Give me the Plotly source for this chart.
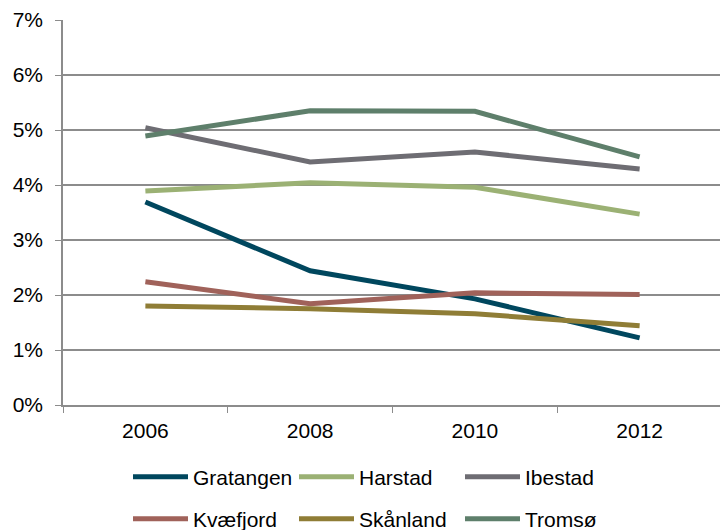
import plotly.graph_objects as go

years = ["2006", "2008", "2010", "2012"]
gratangen = [3.69, 2.44, 1.93, 1.22]
harstad = [3.89, 4.04, 3.96, 3.47]
ibestad = [5.04, 4.42, 4.60, 4.29]
kvaefjord = [2.24, 1.84, 2.04, 2.01]
skanland = [1.80, 1.75, 1.66, 1.44]
tromso = [4.89, 5.35, 5.34, 4.51]
y_ticks = [0, 1, 2, 3, 4, 5, 6, 7]
y_labels = [f"{v}%" for v in y_ticks]

series = [
    ("Gratangen", gratangen, "#00475E", "legend"),
    ("Harstad", harstad, "#9BB174", "legend"),
    ("Ibestad", ibestad, "#6E6D73", "legend"),
    ("Kvæfjord", kvaefjord, "#A0625A", "legend2"),
    ("Skånland", skanland, "#8F7D36", "legend2"),
    ("Tromsø", tromso, "#5E7F6B", "legend2"),
]

fig = go.Figure()
for name, vals, color, lg in series:
    fig.add_trace(go.Scatter(
        x=years, y=vals, name=name, mode="lines",
        line=dict(color=color, width=5),
        legend=lg,
    ))

# page body has an 8px default margin, so the figure is 720x522
W, H = 720, 522
font = dict(family="Liberation Sans, Arial, sans-serif", size=21, color="#000000")
legend_common = dict(
    orientation="h", xref="container", yref="container",
    xanchor="left", yanchor="middle", entrywidth=96, itemwidth=55,
    font=font, bgcolor="rgba(0,0,0,0)", tracegroupgap=0, itemclick=False,
)
fig.update_layout(
    width=W, height=H,
    margin=dict(l=55, r=6, t=12, b=125, autoexpand=False),
    paper_bgcolor="white", plot_bgcolor="white",
    font=font,
    showlegend=True,
    legend=dict(x=120 / W, y=1 - 469 / H, **legend_common),
    legend2=dict(x=120 / W, y=1 - 511 / H, **legend_common),
    xaxis=dict(
        type="category", range=[-0.5, 3.5],
        showline=True, linecolor="#8C8C8C", linewidth=1.5,
        ticks="outside", tickson="boundaries", ticklen=6, tickcolor="#8C8C8C",
        showgrid=False, zeroline=False, tickfont=font, ticklabelstandoff=6,
    ),
    yaxis=dict(
        range=[0, 7], tickvals=y_ticks, ticktext=y_labels,
        showline=True, linecolor="#8C8C8C", linewidth=1.5,
        ticks="outside", ticklen=6, tickcolor="#8C8C8C",
        showgrid=True, gridcolor="#8C8C8C", gridwidth=1.5,
        zeroline=False, tickfont=font, ticklabelstandoff=8,
    ),
)
fig.write_html("out.html")
